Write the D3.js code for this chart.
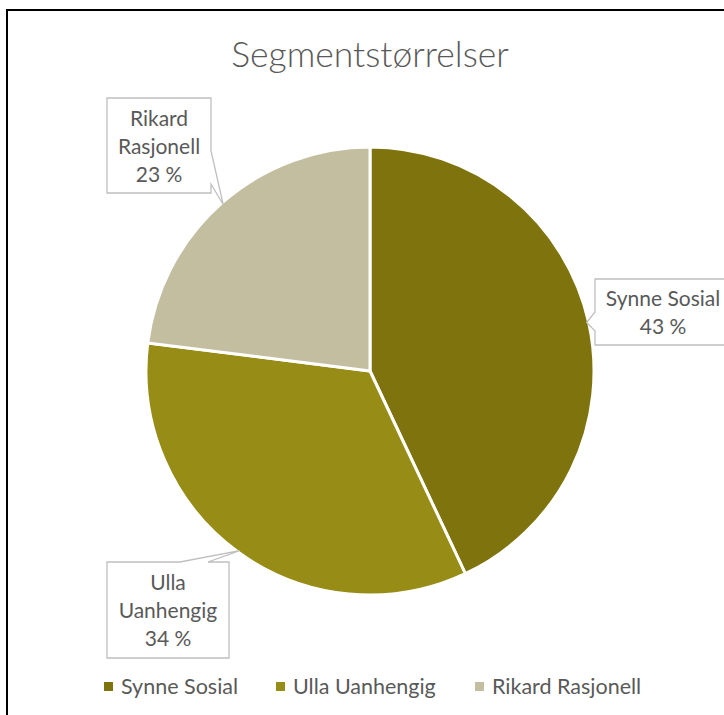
<!DOCTYPE html>
<html>
<head>
<meta charset="utf-8">
<script src="https://cdn.jsdelivr.net/npm/d3@7"></script>
<style>
  body { margin: 0; background: #fff; }
  svg { display: block; }
  text { font-family: Lato, "Open Sans", sans-serif; fill: #595959; }
</style>
</head>
<body>
<div id="chart"></div>
<script>
const segments = ["Synne Sosial", "Ulla Uanhengig", "Rikard Rasjonell"];
const shares = [43, 34, 23];
const colors = ["#7e730d", "#978c16", "#c4bea1"];
// label text split in lines, like the Excel callouts
const labelLines = [["Synne Sosial"], ["Ulla", "Uanhengig"], ["Rikard", "Rasjonell"]];

const W = 724, H = 715;
const cx = 370, cy = 371, r = 224;

const svg = d3.select("#chart").append("svg")
    .attr("width", W)
    .attr("height", H);

// chart frame (runs off the right and bottom of the view)
svg.append("rect")
    .attr("x", 7).attr("y", 10)
    .attr("width", 800).attr("height", 800)
    .attr("fill", "none")
    .attr("stroke", "#000")
    .attr("stroke-width", 2);

svg.append("text")
    .attr("x", cx).attr("y", 67)
    .attr("text-anchor", "middle")
    .style("font-size", "35.5px")
    .style("font-weight", 300)
    .text("Segmentstørrelser");

const data = segments.map((s, i) => ({ name: s, value: shares[i], color: colors[i], lines: labelLines[i] }));

const pie = d3.pie().value(d => d.value).sort(null);
const arc = d3.arc().innerRadius(0).outerRadius(r);
const edge = d3.arc().innerRadius(r - 2).outerRadius(r - 2);

const g = svg.append("g").attr("transform", `translate(${cx},${cy})`);
const arcs = pie(data);

g.selectAll("path.slice")
    .data(arcs)
    .enter()
    .append("path")
    .attr("class", "slice")
    .attr("d", arc)
    .attr("fill", d => d.data.color)
    .attr("stroke", "#fff")
    .attr("stroke-width", 3);

// callout boxes: x0,y0,x1,y1 and which side the wedge leaves from
const boxes = [
    { x0: 595, y0: 279, x1: 760, y1: 345, side: "left", a: 312, b: 331 },
    { x0: 107, y0: 562, x1: 229, y1: 658, side: "top", a: 180, b: 208 },
    { x0: 107, y0: 98, x1: 211, y1: 193, side: "right", a: 151, b: 184 }
];

function calloutPath(bx, tip) {
    const { x0, y0, x1, y1, side, a, b } = bx;
    const p = d3.path();
    p.moveTo(x0, y0);
    if (side === "top") { p.lineTo(a, y0); p.lineTo(tip[0], tip[1]); p.lineTo(b, y0); }
    p.lineTo(x1, y0);
    if (side === "right") { p.lineTo(x1, a); p.lineTo(tip[0], tip[1]); p.lineTo(x1, b); }
    p.lineTo(x1, y1);
    p.lineTo(x0, y1);
    if (side === "left") { p.lineTo(x0, b); p.lineTo(tip[0], tip[1]); p.lineTo(x0, a); }
    p.closePath();
    return p.toString();
}

const labels = svg.append("g");
arcs.forEach((d, i) => {
    const c = edge.centroid(d);
    const tip = [cx + c[0], cy + c[1]];
    const bx = boxes[i];
    labels.append("path")
        .attr("d", calloutPath(bx, tip))
        .attr("fill", "#fff")
        .attr("stroke", "#bfbfbf")
        .attr("stroke-width", 1.3);
    const lines = d.data.lines.concat([`${d.data.value} %`]);
    const mx = (bx.x0 + bx.x1) / 2;
    const lh = 28;
    const top = (bx.y0 + bx.y1) / 2 - (lines.length - 1) * lh / 2 + 8;
    lines.forEach((t, j) => {
        labels.append("text")
            .attr("x", i === 0 ? 663 : mx)
            .attr("y", top + j * lh)
            .attr("text-anchor", "middle")
            .style("font-size", "21px")
            .text(t);
    });
});

// legend
const legendX = [104, 276, 475];
const legend = svg.append("g");
data.forEach((d, i) => {
    legend.append("rect")
        .attr("x", legendX[i]).attr("y", 682)
        .attr("width", 9).attr("height", 9)
        .attr("fill", d.color);
    legend.append("text")
        .attr("x", legendX[i] + 17).attr("y", 694)
        .style("font-size", "21.5px")
        .text(d.name);
});
</script>
</body>
</html>
